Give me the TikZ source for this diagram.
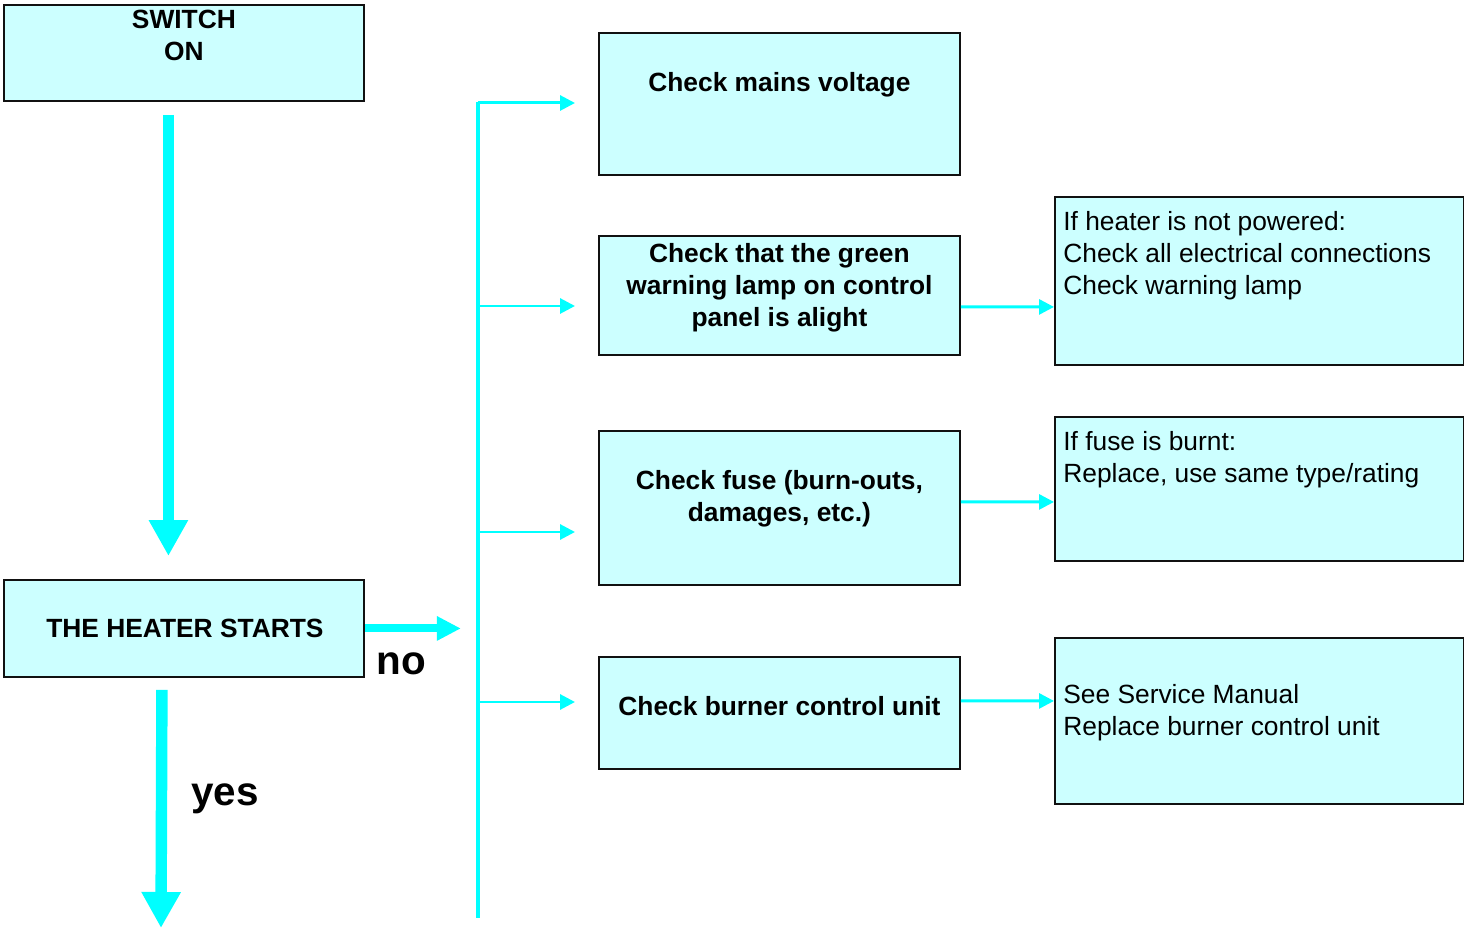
\documentclass[tikz,border=0pt]{standalone}
\usepackage{fontspec}
\setmainfont{Liberation Sans}
\usepackage{tikz}
\usetikzlibrary{positioning,arrows.meta,calc}
\definecolor{cFill}{HTML}{CCFFFF}
\definecolor{cArr} {HTML}{00FFFF}
\definecolor{cLine}{HTML}{111111}
\tikzset{
  fbox/.style ={draw=cLine,fill=cFill,line width=1.1pt,inner sep=0pt,
                anchor=north west},
  ftxt/.style ={inner sep=0pt,align=center,
                font=\fontsize{15}{18.2}\selectfont\bfseries},
  fnote/.style={inner sep=0pt,align=left,anchor=north west,
                font=\fontsize{15}{18.2}\selectfont},
  fword/.style={inner sep=0pt,anchor=base west,
                font=\fontsize{23}{27}\selectfont\bfseries},
  fbig/.style ={cArr,line width=6.5pt,-{Triangle[length=7.2mm,width=7.4mm]}},
  fno/.style  ={cArr,line width=4.6pt,-{Triangle[length=4.8mm,width=4.6mm]}},
  fthin/.style={cArr,line width=1.7pt,-{Triangle[length=3mm,width=3mm]}},
  fbus/.style ={cArr,line width=1.9pt},
}
\begin{document}
\begin{tikzpicture}[x=0.02cm,y=-0.02cm]
  \useasboundingbox (0,0) rectangle (1464,928);
  % left column
  \node[fbox,minimum width=7.2cm,minimum height=1.92cm] (sw) at (3,4) {};
  \node[fbox,minimum width=7.2cm,minimum height=1.94cm] (hs) at (3,579) {};
  \node[ftxt,anchor=north] (tsw) at ([shift={(0,6)}]sw.north) {SWITCH\\ON};
  \node[ftxt] (ths) at ([shift={(1,0)}]hs.center) {THE HEATER STARTS};
  \coordinate (nout) at ([shift={(96,0)}]hs.east);
  \coordinate (yout) at (161,928);
  \draw[fbig] ([shift={(-15.5,13)}]sw.south) -- ([shift={(-15.5,-23)}]hs.north);
  \draw[fno] (hs.east) -- (nout);
  \draw[fbig] ([shift={(-22,12)}]hs.south) -- (yout);
  \node[fword] (no) at (376,675) {no};
  \node[fword] (yes) at (191,806) {yes};
  % checks
  \node[fbox,minimum width=7.22cm,minimum height=2.84cm] (c1) at (598,32) {};
  \node[fbox,minimum width=7.22cm,minimum height=2.38cm] (c2) at (598,235) {};
  \node[fbox,minimum width=7.22cm,minimum height=3.08cm] (c3) at (598,430) {};
  \node[fbox,minimum width=7.22cm,minimum height=2.24cm] (c4) at (598,656) {};
  \node[ftxt,anchor=north] (tc1) at ([shift={(0,40)}]c1.north) {Check mains voltage};
  \node[ftxt,anchor=north] (tc2) at ([shift={(0,8)}]c2.north)
    {Check that the green\\warning lamp on control\\panel is alight};
  \node[ftxt,anchor=north] (tc3) at ([shift={(0,40)}]c3.north)
    {Check fuse (burn-outs,\\damages, etc.)};
  \node[ftxt,anchor=north] (tc4) at ([shift={(0,40)}]c4.north) {Check burner control unit};
  % remedies
  \node[fbox,minimum width=8.18cm,minimum height=3.36cm] (r1) at (1054,196) {};
  \node[fbox,minimum width=8.18cm,minimum height=2.88cm] (r2) at (1054,416) {};
  \node[fbox,minimum width=8.18cm,minimum height=3.32cm] (r3) at (1054,637) {};
  \node[fnote] (tr1) at ([shift={(9,15)}]r1.north west)
    {If heater is not powered:\\Check all electrical connections\\Check warning lamp};
  \node[fnote] (tr2) at ([shift={(9,15)}]r2.north west)
    {If fuse is burnt:\\Replace, use same type/rating};
  \node[fnote] (tr3) at ([shift={(9,47)}]r3.north west)
    {See Service Manual\\Replace burner control unit};
  % bus and branches
  \coordinate (bt) at (478,102);
  \coordinate (bb) at (478,918);
  \draw[fbus] (bt) -- (bb);
  \foreach \n/\yy in {1/103,2/306,3/532,4/702}{
    \coordinate (a\n) at (575,\yy);
    \draw[fthin] (bt |- a\n) -- (a\n);
  }
  \draw[fthin] ([shift={(0,11.5)}]c2.east) -- ([shift={(0,26)}]r1.west);
  \draw[fthin] ([shift={(0,-6)}]c3.east) -- ([shift={(0,13)}]r2.west);
  \draw[fthin] ([shift={(0,-12)}]c4.east) -- ([shift={(0,-20)}]r3.west);
\end{tikzpicture}
\end{document}
